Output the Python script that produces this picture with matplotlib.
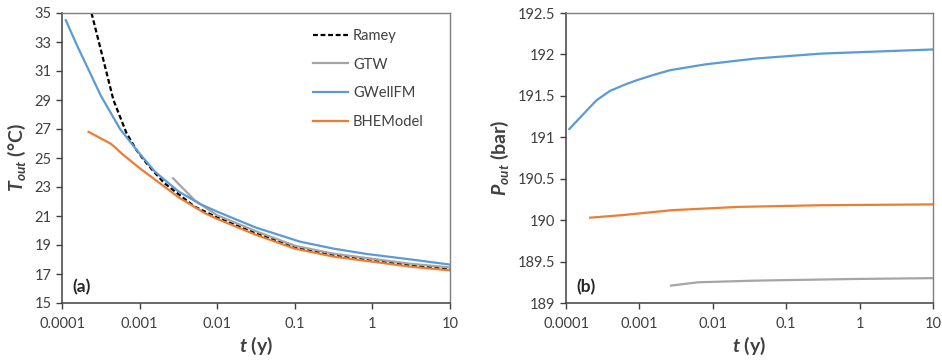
import numpy as np
import matplotlib.pyplot as plt
from matplotlib.ticker import FixedLocator, FixedFormatter, FormatStrFormatter, NullLocator

plt.rcParams['font.family'] = ['Lato', 'DejaVu Sans']
plt.rcParams['mathtext.fontset'] = 'custom'
plt.rcParams['mathtext.bfit'] = 'Lato:italic:bold'
plt.rcParams['mathtext.it'] = 'Lato:italic:bold'
plt.rcParams['mathtext.rm'] = 'Lato:bold'

# ---- panel (a): outlet temperature ----
t_ramey = [2.4e-4, 3.4e-4, 4.6e-4, 6.8e-4, 9.1e-4, 1.12e-3, 1.5e-3, 2.1e-3,
           5.1e-3, 1e-2, 3.16e-2, 0.1, 0.316, 1, 3.16, 10]
T_ramey = [35.0, 31.8, 29.0, 26.7, 25.55, 24.9, 24.1, 23.25,
           21.65, 20.9, 19.8, 18.85, 18.3, 17.9, 17.6, 17.35]

t_gtw = [2.7e-3, 5.1e-3, 7.9e-3, 1e-2, 3.16e-2, 0.1, 0.316, 1, 3.16, 10]
T_gtw = [23.6, 22.1, 21.4, 21.05, 19.95, 18.95, 18.4, 18.05, 17.7, 17.45]

t_gwell = [1.12e-4, 1.58e-4, 2.24e-4, 3.16e-4, 5.6e-4, 1e-3, 1.58e-3, 3.16e-3, 6.0e-3,
           1e-2, 3.16e-2, 0.117, 0.316, 0.85, 3.16, 10]
T_gwell = [34.5, 32.7, 31.0, 29.3, 27.0, 25.3, 24.05, 22.7, 21.83,
           21.3, 20.2, 19.23, 18.75, 18.38, 18.0, 17.65]

t_bhe = [2.2e-4, 4.2e-4, 4.8e-4, 5.9e-4, 1e-3, 1.5e-3, 3.16e-3, 6.9e-3,
         1e-2, 3.16e-2, 0.1, 0.316, 1, 3.16, 10]
T_bhe = [26.8, 26.0, 25.75, 25.3, 24.3, 23.6, 22.3, 21.2,
         20.8, 19.7, 18.75, 18.2, 17.85, 17.5, 17.25]

# ---- panel (b): outlet pressure ----
tp_gtw = [2.7e-3, 6.3e-3, 3.8e-2, 0.87, 10]
P_gtw = [189.21, 189.25, 189.27, 189.29, 189.30]

tp_gwell = [1.11e-4, 1.95e-4, 2.63e-4, 3.98e-4, 6.3e-4, 9.3e-4, 1.66e-3, 2.63e-3,
            7.9e-3, 3.8e-2, 0.30, 2.45, 10]
P_gwell = [191.10, 191.33, 191.45, 191.56, 191.635, 191.69, 191.76, 191.81,
           191.88, 191.95, 192.01, 192.04, 192.06]

tp_bhe = [2.14e-4, 5.75e-4, 2.75e-3, 2.24e-2, 0.30, 10]
P_bhe = [190.03, 190.06, 190.12, 190.16, 190.18, 190.19]

x_ticks = [1e-4, 1e-3, 1e-2, 1e-1, 1, 10]
x_labels = ["0.0001", "0.001", "0.01", "0.1", "1", "10"]

c_blue = "#5B9BD5"
c_orange = "#ED7D31"
c_gray = "#A5A5A5"
txt = "#404040"

fig = plt.figure(figsize=(9.42, 3.6), dpi=100)
ax1 = fig.add_axes([62 / 942, 1 - 303 / 360, 388 / 942, 290 / 360])
ax2 = fig.add_axes([566 / 942, 1 - 303 / 360, 367 / 942, 290 / 360])

lw = 1.6
ax1.plot(t_ramey, T_ramey, color="black", ls=(0, (2.2, 1.2)), lw=lw, label="Ramey")
ax1.plot(t_gtw, T_gtw, color=c_gray, lw=lw, label="GTW")
ax1.plot(t_gwell, T_gwell, color=c_blue, lw=lw, label="GWellFM")
ax1.plot(t_bhe, T_bhe, color=c_orange, lw=lw, label="BHEModel")

ax2.plot(tp_gtw, P_gtw, color=c_gray, lw=lw)
ax2.plot(tp_gwell, P_gwell, color=c_blue, lw=lw)
ax2.plot(tp_bhe, P_bhe, color=c_orange, lw=lw)

for ax in (ax1, ax2):
    ax.set_xscale("log")
    ax.set_xlim(1e-4, 10)
    ax.xaxis.set_major_locator(FixedLocator(x_ticks))
    ax.xaxis.set_major_formatter(FixedFormatter(x_labels))
    ax.xaxis.set_minor_locator(NullLocator())
    ax.tick_params(axis="both", direction="out", length=4, width=1.0, colors="#404040",
                   labelsize=10.5, labelcolor=txt)
    ax.tick_params(axis="x", pad=6)
    for s in ("left", "bottom"):
        ax.spines[s].set_color("#404040")
        ax.spines[s].set_linewidth(1.1)
    for s in ("top", "right"):
        ax.spines[s].set_color("#7F7F7F")
        ax.spines[s].set_linewidth(1.0)
    ax.set_xlabel(r"$\mathbfit{t}$ (y)", fontsize=14, fontweight="bold", color=txt, labelpad=3)

ax1.set_ylim(15, 35)
ax1.set_yticks(np.arange(15, 36, 2))
ax1.set_ylabel(r"$\mathbfit{T}_{\mathbfit{out}}$ (°C)", fontsize=14, fontweight="bold", color=txt, labelpad=5)

ax2.set_ylim(189, 192.5)
ax2.set_yticks(np.arange(189, 192.51, 0.5))
ax2.yaxis.set_major_formatter(FormatStrFormatter("%g"))
ax2.set_ylabel(r"$\mathbfit{P}_{\mathbfit{out}}$ (bar)", fontsize=14, fontweight="bold", color=txt, labelpad=5)

leg = ax1.legend(loc="upper left", bbox_to_anchor=(0.628, 0.97), frameon=False, fontsize=10.5,
                 handlelength=2.4, handletextpad=0.35, labelspacing=1.0, borderpad=0)
for t in leg.get_texts():
    t.set_color(txt)

ax1.text(0.028, 0.055, "(a)", transform=ax1.transAxes, fontsize=12.5, fontweight="bold",
         color="#262626", ha="left", va="center")
ax2.text(0.028, 0.055, "(b)", transform=ax2.transAxes, fontsize=12.5, fontweight="bold",
         color="#262626", ha="left", va="center")

fig.savefig("out.png", dpi=100)
